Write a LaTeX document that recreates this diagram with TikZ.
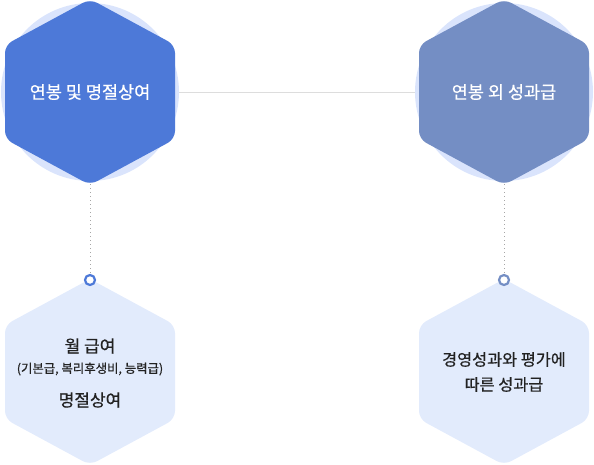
\documentclass[tikz,border=0pt]{standalone}
\usepackage{fontspec}
\setmainfont{Noto Sans CJK KR}
\newfontfamily\medfont[FakeBold=0.6]{Noto Sans CJK KR}
\definecolor{hexA}{RGB}{77,121,216}
\definecolor{hexB}{RGB}{116,142,196}
\definecolor{halo}{RGB}{218,228,252}
\definecolor{hexL}{RGB}{226,235,252}
\definecolor{txt}{RGB}{34,34,34}
\newcommand\myhex[3]{\fill[#3, rounded corners=8pt] (#1,#2-93) -- (#1+85,#2-47) -- (#1+85,#2+47) -- (#1,#2+93) -- (#1-85,#2+47) -- (#1-85,#2-47) -- cycle;}
\tikzset{
  toptext/.style={text=white, font=\medfont\fontsize{17.5}{20}\selectfont, inner sep=0pt},
  bigtext/.style={text=txt, font=\medfont\fontsize{17}{20}\selectfont, inner sep=0pt},
  smalltext/.style={text=txt, font=\medfont\fontsize{12.4}{15}\selectfont, inner sep=0pt},
  bottext/.style={text=txt, font=\medfont\fontsize{16.3}{25}\selectfont, align=center, inner sep=0pt},
  marker/.style={circle, draw=#1, fill=white, line width=2.2pt, minimum size=10pt, inner sep=0pt},
  hline/.style={draw={rgb,255:red,221;green,221;blue,221}, line width=1pt},
  vdots/.style={draw=gray!70, line width=0.7pt, dash pattern=on 0.7pt off 3.3pt},
}
\begin{document}
\begin{tikzpicture}[x=1pt,y=-1pt]
\useasboundingbox (0,0) rectangle (594,464);
\clip (0,0) rectangle (594,464);
% anchor coordinates
\coordinate (c1) at (90,92);
\coordinate (c2) at (504,92);
\coordinate (b1) at (90,372);
\coordinate (b2) at (504,372);
% connectors (drawn first, shapes cover them)
\draw[hline] (c1) -- (c2);
\draw[vdots] (c1) -- (90,280) coordinate (m1pos);
\draw[vdots] (c2) -- (504,280) coordinate (m2pos);
% halos
\fill[halo] (c1) circle (89);
\fill[halo] (c2) circle (89);
% hexagons
\myhex{90}{92}{hexA}
\myhex{504}{92}{hexB}
\myhex{90}{372}{hexL}
\myhex{504}{372}{hexL}
% markers
\node[marker=hexA] (m1) at (m1pos) {};
\node[marker=hexB] (m2) at (m2pos) {};
% texts
\node[toptext] (t1) at (c1) {연봉 및 명절상여};
\node[toptext] (t2) at (c2) {연봉 외 성과급};
\node[bigtext] (l1) at (90,346) {월 급여};
\node[smalltext] (l2) at (90,369) {(기본급, 복리후생비, 능력급)};
\node[bigtext] (l3) at (90,400) {명절상여};
\node[bottext] (r1) at (504,372) {경영성과와 평가에\\따른 성과급};
\end{tikzpicture}
\end{document}
